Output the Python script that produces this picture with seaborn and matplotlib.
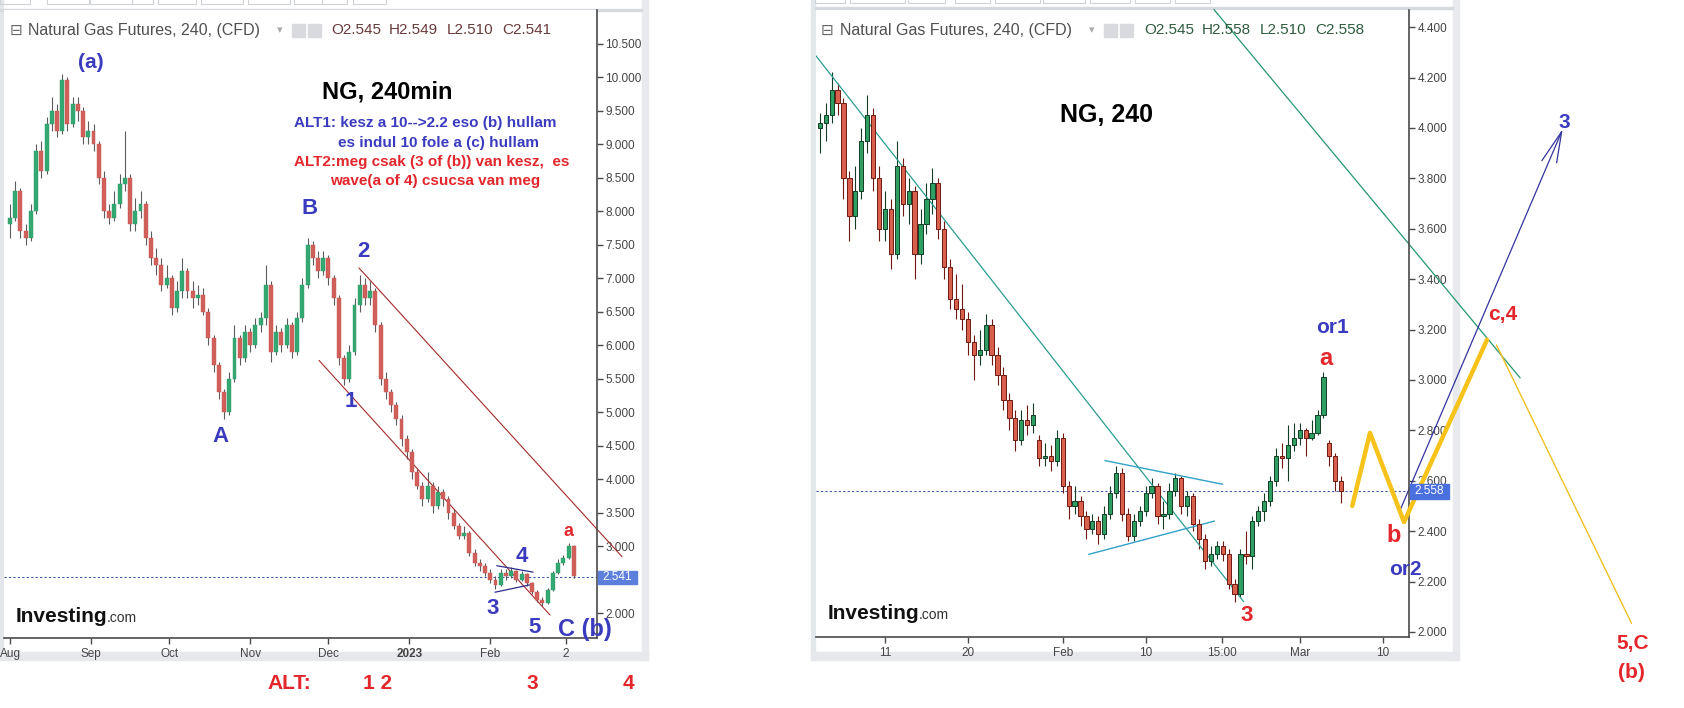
import matplotlib
matplotlib.use("Agg")
import matplotlib.pyplot as plt
from matplotlib.patches import Rectangle
import numpy as np
import seaborn as sns

W, H = 1684, 708

# ---------------- left chart: NG 240min, 2-day candles, day 0 = Aug 1 2022 ----------------
left_first_open = 7.8
left_close = [7.9, 8.3, 7.7, 7.6, 8.0, 8.9, 8.6, 9.3, 9.5, 9.2,
              9.95, 9.3, 9.6, 9.5, 9.1, 9.2, 9.0, 8.5, 8.0, 7.9,
              8.1, 8.4, 8.5, 7.8, 8.0, 8.1, 7.6, 7.3, 7.2, 6.9,
              7.0, 6.55, 6.8, 7.1, 6.8, 6.7, 6.75, 6.5, 6.1, 5.7,
              5.3, 5.0, 5.5, 6.1, 5.8, 6.2, 6.0, 6.3, 6.4, 6.9,
              5.9, 6.2, 6.0, 6.3, 5.9, 6.4, 6.9, 7.5, 7.3, 7.1,
              7.3, 7.0, 6.7, 5.8, 5.5, 5.9, 6.6, 6.9, 6.7, 6.8,
              6.3, 5.5, 5.3, 5.1, 4.9, 4.6, 4.4, 4.1, 3.9, 3.7,
              3.9, 3.6, 3.8, 3.7, 3.5, 3.3, 3.15, 3.2, 2.9, 2.75,
              2.7, 2.6, 2.5, 2.42, 2.6, 2.55, 2.62, 2.5, 2.58, 2.45,
              2.32, 2.2, 2.15, 2.35, 2.6, 2.75, 2.82, 3.0, 2.55]
left_high = [8.1, 8.45, 8.35, 7.8, 8.1, 9.0, 9.05, 9.4, 9.7, 9.6,
             10.05, 10.0, 9.7, 9.7, 9.55, 9.35, 9.3, 9.05, 8.6, 8.1,
             8.3, 8.55, 9.2, 8.55, 8.2, 8.3, 8.15, 7.7, 7.45, 7.3,
             7.2, 7.05, 6.95, 7.3, 7.15, 6.95, 6.9, 6.85, 6.55, 6.15,
             5.75, 5.35, 5.6, 6.3, 6.15, 6.3, 6.25, 6.4, 6.5, 7.2,
             6.95, 6.3, 6.25, 6.4, 6.35, 6.5, 7.0, 7.6, 7.55, 7.4,
             7.4, 7.35, 7.05, 6.75, 5.85, 6.0, 6.7, 7.05, 7.0, 6.95,
             6.85, 6.35, 5.6, 5.35, 5.15, 4.95, 4.65, 4.45, 4.15, 3.95,
             4.1, 3.95, 3.9, 3.85, 3.75, 3.55, 3.35, 3.3, 3.22, 2.95,
             2.8, 2.75, 2.65, 2.55, 2.65, 2.65, 2.68, 2.64, 2.62, 2.6,
             2.47, 2.34, 2.24, 2.38, 2.63, 2.8, 2.86, 3.05, 3.02]
left_low = [7.6, 7.85, 7.6, 7.5, 7.55, 7.95, 8.5, 8.55, 9.2, 9.1,
            9.15, 9.2, 9.25, 9.35, 9.0, 9.0, 8.9, 8.4, 7.9, 7.8,
            7.85, 8.05, 8.3, 7.7, 7.7, 7.9, 7.5, 7.2, 7.05, 6.8,
            6.85, 6.45, 6.5, 6.7, 6.7, 6.55, 6.6, 6.45, 6.0, 5.6,
            5.2, 4.9, 4.95, 5.45, 5.7, 5.75, 5.9, 5.95, 6.2, 6.3,
            5.75, 5.85, 5.9, 5.95, 5.8, 5.85, 6.35, 6.85, 7.2, 7.0,
            7.05, 6.9, 6.6, 5.7, 5.4, 5.45, 5.85, 6.5, 6.6, 6.6,
            6.2, 5.4, 5.2, 5.0, 4.8, 4.5, 4.3, 4.0, 3.85, 3.6,
            3.65, 3.5, 3.55, 3.6, 3.4, 3.25, 3.1, 3.1, 2.85, 2.7,
            2.62, 2.55, 2.45, 2.36, 2.4, 2.5, 2.52, 2.46, 2.48, 2.4,
            2.28, 2.16, 2.1, 2.13, 2.33, 2.58, 2.72, 2.8, 2.52]
left_days = list(range(0, 2 * len(left_close), 2))
left_month_days = [0, 31, 61, 92, 122, 153, 184, 213]
left_month_labels = ["Aug", "Sep", "Oct", "Nov", "Dec", "2023", "Feb", "2"]
left_price_ticks = [2.0, 3.0, 3.5, 4.0, 4.5, 5.0, 5.5, 6.0, 6.5, 7.0,
                    7.5, 8.0, 8.5, 9.0, 9.5, 10.0, 10.5]
left_last = 2.541

# ---------------- right chart: NG 240, half-day candles, x = trading days from Jan 11 ----------------
right_open = [4.00, 4.02, 4.05, 4.15, 4.10, 3.80, 3.65, 3.75, 3.95, 4.05,
              3.80, 3.60, 3.68, 3.50, 3.85, 3.70, 3.75, 3.50, 3.62, 3.72,
              3.78, 3.60, 3.45, 3.32, 3.28, 3.24, 3.15, 3.10, 3.12, 3.22,
              3.10, 3.02, 2.92, 2.85, 2.76, 2.84, 2.82, 2.76, 2.69, 2.70,
              2.68, 2.77, 2.58, 2.50, 2.52, 2.46, 2.41, 2.44, 2.39, 2.47,
              2.55, 2.63, 2.47, 2.38, 2.44, 2.48, 2.55, 2.58, 2.46, 2.47,
              2.56, 2.61, 2.50, 2.54, 2.43, 2.37, 2.28, 2.31, 2.34, 2.31,
              2.19, 2.15, 2.31, 2.30, 2.44, 2.48, 2.52, 2.60, 2.70, 2.69,
              2.74, 2.77, 2.80, 2.77, 2.79, 2.86, 2.75, 2.70, 2.60]
right_close = [4.02, 4.05, 4.15, 4.10, 3.80, 3.65, 3.75, 3.95, 4.05, 3.80,
               3.60, 3.68, 3.50, 3.85, 3.70, 3.75, 3.50, 3.62, 3.72, 3.78,
               3.60, 3.45, 3.32, 3.28, 3.24, 3.15, 3.10, 3.12, 3.22, 3.10,
               3.02, 2.92, 2.85, 2.76, 2.84, 2.82, 2.86, 2.69, 2.70, 2.68,
               2.77, 2.58, 2.50, 2.52, 2.46, 2.41, 2.44, 2.39, 2.47, 2.55,
               2.63, 2.47, 2.38, 2.44, 2.48, 2.55, 2.58, 2.46, 2.47, 2.56,
               2.61, 2.50, 2.54, 2.43, 2.37, 2.28, 2.31, 2.34, 2.31, 2.19,
               2.15, 2.31, 2.30, 2.44, 2.48, 2.52, 2.60, 2.70, 2.69, 2.74,
               2.77, 2.80, 2.77, 2.79, 2.86, 3.01, 2.70, 2.60, 2.56]
right_high = [4.06, 4.10, 4.22, 4.18, 4.12, 3.83, 3.85, 4.00, 4.13, 4.08,
              3.85, 3.75, 3.72, 3.95, 3.88, 3.80, 3.77, 3.68, 3.78, 3.84,
              3.80, 3.63, 3.48, 3.42, 3.38, 3.27, 3.18, 3.20, 3.26, 3.24,
              3.13, 3.05, 2.95, 2.88, 2.88, 2.90, 2.91, 2.78, 2.75, 2.74,
              2.80, 2.79, 2.60, 2.58, 2.54, 2.48, 2.47, 2.46, 2.50, 2.58,
              2.66, 2.65, 2.49, 2.47, 2.50, 2.58, 2.61, 2.59, 2.52, 2.59,
              2.63, 2.62, 2.56, 2.55, 2.45, 2.39, 2.34, 2.36, 2.36, 2.33,
              2.21, 2.33, 2.40, 2.46, 2.50, 2.55, 2.62, 2.73, 2.75, 2.82,
              2.83, 2.83, 2.81, 2.84, 2.88, 3.03, 2.76, 2.71, 2.62]
right_low = [3.90, 3.95, 4.02, 4.05, 3.72, 3.55, 3.60, 3.72, 3.90, 3.75,
             3.55, 3.55, 3.44, 3.48, 3.65, 3.62, 3.40, 3.46, 3.58, 3.66,
             3.56, 3.40, 3.28, 3.24, 3.20, 3.10, 3.00, 3.06, 3.10, 3.06,
             2.98, 2.88, 2.80, 2.72, 2.74, 2.78, 2.79, 2.66, 2.66, 2.64,
             2.66, 2.55, 2.45, 2.47, 2.42, 2.37, 2.39, 2.35, 2.37, 2.45,
             2.53, 2.44, 2.36, 2.36, 2.42, 2.46, 2.53, 2.43, 2.41, 2.45,
             2.54, 2.47, 2.46, 2.40, 2.33, 2.25, 2.26, 2.29, 2.28, 2.17,
             2.12, 2.14, 2.27, 2.25, 2.42, 2.44, 2.50, 2.58, 2.65, 2.60,
             2.72, 2.74, 2.70, 2.76, 2.78, 2.85, 2.66, 2.56, 2.51]
right_t = np.arange(len(right_close)) * 0.5 - 5.5
right_tick_pos = [0, 7, 15, 22, 28.4, 35, 42]
right_tick_labels = ["11", "20", "Feb", "10", "15:00", "Mar", "10"]
right_price_ticks = [2.0, 2.2, 2.4, 2.6, 2.8, 3.0, 3.2, 3.4, 3.6, 3.8, 4.0, 4.2, 4.4]
right_last = 2.558

# projected wave path (yellow) and the arrow towards 3
proj_t = [39.43, 40.93, 43.8, 50.8]
proj_p = [2.50, 2.79, 2.436, 3.159]
drop_t = [51.6, 63.0]
drop_p = [3.139, 2.034]
arrow_t = [43.53, 57.1]
arrow_p = [2.49, 3.985]

BLUE = "#3b3bbf"
RED = "#e3262b"

sns.set_theme(style="white")
plt.rcParams["font.family"] = ["Liberation Sans", "DejaVu Sans"]

fig = plt.figure(figsize=(W / 100, H / 100), dpi=100)
fig.patch.set_facecolor("white")


def px_rect(x0, y0, x1, y1, **kw):
    fig.add_artist(Rectangle((x0 / W, 1 - y1 / H), (x1 - x0) / W, (y1 - y0) / H,
                             transform=fig.transFigure, **kw))


def ftext(x, y, s, **kw):
    fig.text(x / W, 1 - y / H, s, **kw)


def candles(ax, x, o, h, l, c, width, up, down, up_edge, down_edge, wick_col, wick_lw, edge_lw):
    x = np.asarray(x, float)
    o = np.asarray(o, float)
    c = np.asarray(c, float)
    rising = c >= o
    face = np.where(rising, up, down)
    edge = np.where(rising, up_edge, down_edge)
    wicks = edge if wick_col is None else wick_col
    ax.vlines(x, l, h, colors=wicks, lw=wick_lw, zorder=2)
    body = np.maximum(np.abs(c - o), 0.004)
    ax.bar(x, body, bottom=np.minimum(o, c), width=width, color=face,
           edgecolor=edge, linewidth=edge_lw, zorder=3)


def style_axis(ax, ticks, fmt):
    for s in ["top", "left"]:
        ax.spines[s].set_visible(False)
    for s in ["right", "bottom"]:
        ax.spines[s].set_color("#4a4a4a")
        ax.spines[s].set_linewidth(1.2)
    ax.yaxis.tick_right()
    ax.set_yticks(ticks)
    ax.set_yticklabels([fmt.format(v) for v in ticks])
    ax.tick_params(axis="y", length=4, width=1, color="#4a4a4a", labelsize=8.5,
                   labelcolor="#444444", pad=2, right=True, left=False)
    ax.tick_params(axis="x", length=4, width=1, color="#4a4a4a", labelsize=8.5,
                   labelcolor="#444444", pad=3, bottom=True)
    ax.grid(False)
    ax.set_facecolor("white")


# ---------------- panel frames (screenshot borders) ----------------
px_rect(0, 0, 3, 660, color="#e3e6ea", zorder=-1)
px_rect(642, 0, 648, 660, color="#e8eaed", zorder=-1)
px_rect(0, 652, 648, 660, color="#e6e8eb", zorder=-1)
px_rect(0, 9, 642, 10.5, color="#d6d9de", zorder=-1)
for a, b in [(0, 30), (47, 89), (90, 132), (132, 153), (158, 196), (201, 243),
             (248, 290), (294, 322), (322, 347), (353, 386)]:
    px_rect(a, -2, b, 4, facecolor="none", edgecolor="#cfd3d8", lw=0.8, zorder=-1)

px_rect(811, 0, 815, 660, color="#e3e6ea", zorder=-1)
px_rect(1453, 0, 1459, 660, color="#e8eaed", zorder=-1)
px_rect(811, 652, 1459, 660, color="#e6e8eb", zorder=-1)
px_rect(815, 7, 1453, 8.5, color="#d6d9de", zorder=-1)
for a, b in [(815, 845), (850, 905), (908, 945), (955, 990), (995, 1040), (1043, 1085),
             (1090, 1130), (1135, 1170), (1175, 1210)]:
    px_rect(a, -2, b, 3, facecolor="none", edgecolor="#cfd3d8", lw=0.8, zorder=-1)

# ---------------- left axes ----------------
ax1 = fig.add_axes([4 / W, 1 - 638 / H, 593 / W, 628 / H])
left_open = [left_first_open] + left_close[:-1]
candles(ax1, left_days, left_open, left_high, left_low, left_close, 1.5,
        "#34a872", "#d2605a", "#2e9a68", "#c4544e", "#5c5c5c", 0.8, 0.3)
ax1.set_xlim(-2.3, 224.9)
ax1.set_ylim(1.627, 11.0)
style_axis(ax1, left_price_ticks, "{:.3f}")
ax1.set_xticks(left_month_days)
ax1.set_xticklabels(left_month_labels)
for lab in ax1.get_xticklabels():
    if lab.get_text() == "2023":
        lab.set_fontweight("bold")
ax1.axhline(left_last, color="#3b5bab", lw=0.8, ls=(0, (2, 2)), zorder=1)

# channel and triangle lines
sns.lineplot(x=[133.7, 234.5], y=[7.15, 2.84], ax=ax1, color="#a52a2a", lw=0.8,
             sort=False, estimator=None, clip_on=False)
sns.lineplot(x=[118.4, 206.9], y=[5.77, 1.97], ax=ax1, color="#a52a2a", lw=0.8,
             sort=False, estimator=None)
sns.lineplot(x=[186.5, 200.4], y=[2.706, 2.61], ax=ax1, color="#2b2b8c", lw=0.9,
             sort=False, estimator=None)
sns.lineplot(x=[185.8, 199.2], y=[2.31, 2.42], ax=ax1, color="#2b2b8c", lw=0.9,
             sort=False, estimator=None)

lbl = dict(ha="center", va="center", fontweight="bold")
note = dict(ha="left", va="center", fontsize=11, fontweight="bold")
ax1.text(31, 10.21, "(a)", color=BLUE, fontsize=15, **lbl)
ax1.text(144.4, 9.78, "NG, 240min", color="black", fontsize=17, **lbl)
ax1.text(108.8, 9.31, "ALT1: kesz a 10-->2.2 eso (b) hullam", color=BLUE, **note)
ax1.text(125.7, 9.01, "es indul 10 fole a (c) hullam", color=BLUE, **note)
ax1.text(108.8, 8.73, "ALT2:meg csak (3 of (b)) van kesz,  es", color=RED, **note)
ax1.text(122.6, 8.45, "wave(a of 4) csucsa van meg", color=RED, **note)
ax1.text(114.6, 8.04, "B", color=BLUE, fontsize=16, **lbl)
ax1.text(135.6, 7.40, "2", color=BLUE, fontsize=16, **lbl)
ax1.text(80.7, 4.63, "A", color=BLUE, fontsize=16, **lbl)
ax1.text(130.7, 5.16, "1", color=BLUE, fontsize=16, **lbl)
ax1.text(196.2, 2.85, "4", color=BLUE, fontsize=16, **lbl)
ax1.text(185.0, 2.07, "3", color=BLUE, fontsize=16, **lbl)
ax1.text(201.1, 1.78, "5", color=BLUE, fontsize=16, **lbl)
ax1.text(220.3, 1.75, "C (b)", color=BLUE, fontsize=17, **lbl)
ax1.text(213.8, 3.22, "a", color=RED, fontsize=13, **lbl)
ax1.text(107.0, 0.955, "ALT:", color=RED, fontsize=15, **lbl)
ax1.text(140.8, 0.955, "1 2", color=RED, fontsize=15, **lbl)
ax1.text(200.2, 0.955, "3", color=RED, fontsize=15, **lbl)
ax1.text(237.0, 0.955, "4", color=RED, fontsize=15, **lbl)

# ---------------- right axes ----------------
ax2 = fig.add_axes([816 / W, 1 - 637 / H, 593 / W, 627 / H])
candles(ax2, right_t, right_open, right_high, right_low, right_close, 0.36,
        "#2f9e62", "#d8604c", "#143d26", "#6e1a12", None, 0.8, 0.7)
ax2.set_xlim(-5.82, 44.22)
ax2.set_ylim(1.980, 4.468)
style_axis(ax2, right_price_ticks, "{:.3f}")
ax2.set_xticks(right_tick_pos)
ax2.set_xticklabels(right_tick_labels)
ax2.axhline(right_last, color="#3b5bab", lw=0.8, ls=(0, (2, 2)), zorder=1)

sns.lineplot(x=[-5.82, 30.27], y=[4.286, 2.12], ax=ax2, color="#2a9d8f", lw=0.9,
             sort=False, estimator=None)
sns.lineplot(x=[27.76, 53.6], y=[4.47, 3.008], ax=ax2, color="#25976c", lw=0.9,
             sort=False, estimator=None, clip_on=False)
sns.lineplot(x=[18.57, 28.5], y=[2.68, 2.586], ax=ax2, color="#31a2c9", lw=1.0,
             sort=False, estimator=None)
sns.lineplot(x=[17.2, 27.8], y=[2.308, 2.44], ax=ax2, color="#31a2c9", lw=1.0,
             sort=False, estimator=None)
sns.lineplot(x=arrow_t, y=arrow_p, ax=ax2, color="#34349e", lw=0.9,
             sort=False, estimator=None, clip_on=False)
for bt, bp in [(55.43, 3.87), (56.68, 3.862)]:
    ax2.plot([arrow_t[1], bt], [arrow_p[1], bp], color="#34349e", lw=0.9, clip_on=False)
sns.lineplot(x=drop_t, y=drop_p, ax=ax2, color="#f0c020", lw=1.0,
             sort=False, estimator=None, clip_on=False)
sns.lineplot(x=proj_t, y=proj_p, ax=ax2, color="#f7c21a", lw=3.2,
             sort=False, estimator=None, clip_on=False, zorder=5)

ax2.text(18.73, 4.05, "NG, 240", color="black", fontsize=18, **lbl)
ax2.text(37.8, 3.21, "or1", color=BLUE, fontsize=15, **lbl)
ax2.text(37.19, 3.087, "a", color=RED, fontsize=17, **lbl)
ax2.text(30.52, 2.067, "3", color=RED, fontsize=16, **lbl)
ax2.text(42.95, 2.381, "b", color=RED, fontsize=17, **lbl)
ax2.text(43.88, 2.246, "or2", color=BLUE, fontsize=15, **lbl)
ax2.text(52.13, 3.258, "c,4", color=RED, fontsize=15, **lbl)
ax2.text(57.3, 4.02, "3", color=BLUE, fontsize=15, **lbl)
ax2.text(63.1, 1.956, "5,C", color=RED, fontsize=15, **lbl)
ax2.text(63.0, 1.841, "(b)", color=RED, fontsize=15, **lbl)

# ---------------- headers, price boxes, logos ----------------
for x0, name_x, ohlc, col in [
        (10, 28, [("O2.545", 331), ("H2.549", 389), ("L2.510", 447), ("C2.541", 502)], "#6a3b3b"),
        (821, 840, [("O2.545", 1144), ("H2.558", 1202), ("L2.510", 1260), ("C2.558", 1315)], "#2e5c3e")]:
    ftext(x0, 30, "\u229f", family="DejaVu Sans", fontsize=11, color="#666666", va="center")
    ftext(name_x, 30, "Natural Gas Futures, 240, (CFD)", fontsize=11.5, color="#505050", va="center")
    ftext(name_x + 249, 30, "\u25be", family="DejaVu Sans", fontsize=8, color="#aaaaaa", va="center")
    px_rect(name_x + 264, 24, name_x + 277, 37, color="#d8dadd")
    px_rect(name_x + 280, 24, name_x + 293, 37, color="#d8dadd")
    for s, xx in ohlc:
        ftext(xx, 30, s, fontsize=11, color=col, va="center")

px_rect(598, 571, 637, 584, color="#5b7fdb", zorder=6)
ftext(617.5, 577.5, "2.541", fontsize=8.5, color="white", ha="center", va="center", zorder=7)
px_rect(1410, 484, 1449, 499, color="#4a70e0", zorder=6)
ftext(1429.5, 491.5, "2.558", fontsize=8.5, color="white", ha="center", va="center", zorder=7)

for lx, ly in [(16, 622), (828, 619)]:
    ftext(lx, ly, "Investing", fontsize=15, fontweight="bold", color="#111111", va="baseline")
    ftext(lx + 91, ly, ".com", fontsize=10, color="#333333", va="baseline")

fig.savefig("out.png", dpi=100)
